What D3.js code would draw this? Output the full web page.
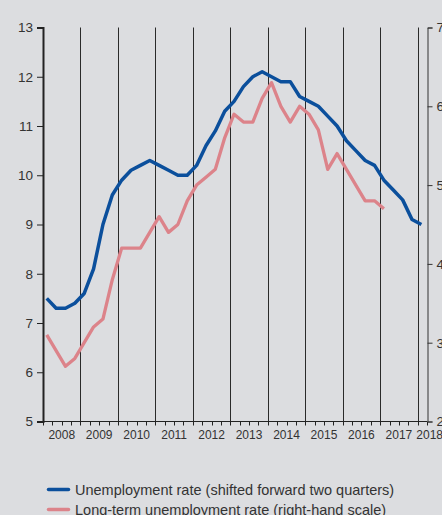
<!DOCTYPE html>
<html>
<head>
<meta charset="UTF-8" />
<script src="https://d3js.org/d3.v7.min.js"></script>
<style>
  body { margin: 0; background: #dcdde0; }
  svg { display: block; font-family: "Liberation Sans", Arial, sans-serif; }
</style>
</head>
<body>
<div id="chart"></div>
<script>
// quarterly values, 2008 Q1 onwards
const unemployment = [7.5, 7.3, 7.3, 7.4, 7.6, 8.1, 9.0, 9.6, 9.9, 10.1, 10.2, 10.3,
  10.2, 10.1, 10.0, 10.0, 10.2, 10.6, 10.9, 11.3, 11.5, 11.8, 12.0, 12.1,
  12.0, 11.9, 11.9, 11.6, 11.5, 11.4, 11.2, 11.0, 10.7, 10.5, 10.3, 10.2,
  9.9, 9.7, 9.5, 9.1, 9.0];
const longTerm = [3.1, 2.9, 2.7, 2.8, 3.0, 3.2, 3.3, 3.8, 4.2, 4.2, 4.2, 4.4,
  4.6, 4.4, 4.5, 4.8, 5.0, 5.1, 5.2, 5.6, 5.9, 5.8, 5.8, 6.1,
  6.3, 6.0, 5.8, 6.0, 5.9, 5.7, 5.2, 5.4, 5.2, 5.0, 4.8, 4.8, 4.7];
const years = [2008, 2009, 2010, 2011, 2012, 2013, 2014, 2015, 2016, 2017, 2018];
const leftTicks = [5, 6, 7, 8, 9, 10, 11, 12, 13];
const rightTicks = [2, 3, 4, 5, 6, 7];
const legendLabels = ["Unemployment rate (shifted forward two quarters)",
  "Long-term unemployment rate (right-hand scale)"];
const colors = ["#0b4f9c", "#dc838a"];

const width = 442, height = 515;
const svg = d3.select("#chart").append("svg")
  .attr("width", width).attr("height", height);

const x = d3.scaleLinear().domain([2008, 2018.25]).range([43, 427]);
const yL = d3.scaleLinear().domain([5, 13]).range([421.5, 27.5]);
const yR = d3.scaleLinear().domain([2, 7]).range([421.5, 27.5]);

const qDate = i => 2008 + i * 0.25 + 0.1;

// year grid lines
svg.append("g").selectAll("line")
  .data(years.slice(1))
  .join("line")
  .attr("x1", d => Math.round(x(d)) + 0.5)
  .attr("x2", d => Math.round(x(d)) + 0.5)
  .attr("y1", 27.5).attr("y2", 421.5)
  .attr("stroke", "#2a2a2a").attr("stroke-width", 1);

// bottom axis with quarterly ticks
const quarters = d3.range(2008, 2018.26, 0.25);
const bottom = svg.append("g").attr("transform", "translate(0,421.5)");
bottom.append("line").attr("x1", 43).attr("x2", 427)
  .attr("stroke", "#222").attr("stroke-width", 1);
bottom.selectAll(".qt").data(quarters).join("line")
  .attr("class", "qt")
  .attr("x1", d => Math.round(x(d)) + 0.5).attr("x2", d => Math.round(x(d)) + 0.5)
  .attr("y1", 0).attr("y2", 4)
  .attr("stroke", "#222");
bottom.selectAll("text").data(years).join("text")
  .attr("x", d => d === 2018 ? x(d) + 12 : x(d + 0.5))
  .attr("y", 17)
  .attr("text-anchor", "middle")
  .attr("font-size", 12)
  .attr("fill", "#333")
  .text(d => d);

// left axis
const left = svg.append("g").attr("transform", "translate(43,0)")
  .call(d3.axisLeft(yL).tickValues(leftTicks).tickSize(6).tickPadding(4));
left.select(".domain").attr("stroke", "#222").attr("stroke-width", 2);
left.selectAll(".tick line").attr("stroke", "#222");
left.selectAll(".tick text").attr("font-size", 13.5).attr("fill", "#333")
  .attr("font-family", "Liberation Sans, Arial, sans-serif");

// right axis
const right = svg.append("g").attr("transform", "translate(427.5,0)")
  .call(d3.axisRight(yR).tickValues(rightTicks).tickSize(5).tickPadding(4));
right.select(".domain").attr("stroke", "#333").attr("stroke-width", 1);
right.selectAll(".tick line").attr("stroke", "#333");
right.selectAll(".tick text").attr("font-size", 13.5).attr("fill", "#333")
  .attr("font-family", "Liberation Sans, Arial, sans-serif");

// series
const lineL = d3.line().x((d, i) => x(qDate(i))).y(d => yL(d));
const lineR = d3.line().x((d, i) => x(qDate(i))).y(d => yR(d));

svg.append("path").datum(longTerm)
  .attr("d", lineR)
  .attr("fill", "none").attr("stroke", colors[1])
  .attr("stroke-width", 3.3).attr("stroke-linejoin", "round");

svg.append("path").datum(unemployment)
  .attr("d", lineL)
  .attr("fill", "none").attr("stroke", colors[0])
  .attr("stroke-width", 3.5).attr("stroke-linejoin", "round");

// legend
const legend = svg.append("g");
legendLabels.forEach((label, i) => {
  const ly = 489.5 + i * 20;
  legend.append("line")
    .attr("x1", 48.5).attr("x2", 68.5).attr("y1", ly).attr("y2", ly)
    .attr("stroke", colors[i]).attr("stroke-width", 3.5).attr("stroke-linecap", "round");
  legend.append("text")
    .attr("x", 75).attr("y", ly + 5)
    .attr("font-size", 14.5).attr("fill", "#333")
    .text(label);
});
</script>
</body>
</html>
